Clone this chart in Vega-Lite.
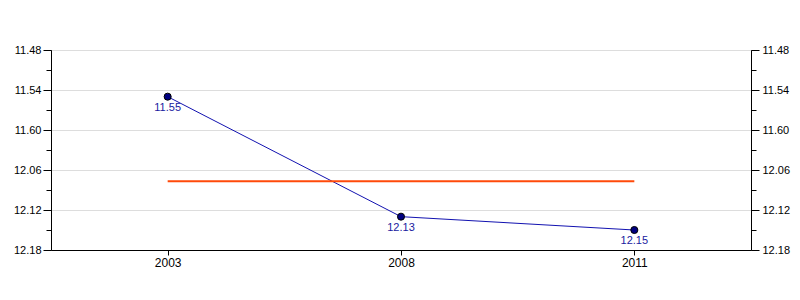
{
  "$schema": "https://vega.github.io/schema/vega-lite/v6.json",
  "width": 700,
  "height": 200,
  "autosize": {"type": "none"},
  "padding": {"left": 51, "top": 50, "right": 49, "bottom": 50},
  "background": "white",
  "config": {
    "view": {"stroke": "black", "strokeWidth": 1},
    "font": "Liberation Sans",
    "axis": {"labelFont": "Liberation Sans", "labelFontSize": 11, "labelColor": "black", "domainColor": "black", "tickColor": "black", "title": null}
  },
  "data": {
    "values": [
      {"year": "2003", "time": 715, "label": "11.55", "avg": 727.67},
      {"year": "2008", "time": 733, "label": "12.13", "avg": 727.67},
      {"year": "2011", "time": 735, "label": "12.15", "avg": 727.67}
    ]
  },
  "encoding": {
    "x": {
      "field": "year",
      "type": "ordinal",
      "scale": {"type": "point", "padding": 0.5},
      "axis": {"labelAngle": 0, "tickSize": 5, "labelPadding": 2, "labelFontSize": 12, "grid": false, "domainColor": "black"}
    }
  },
  "layer": [
    {
      "mark": {"type": "line", "color": "#1212B0", "strokeWidth": 1},
      "encoding": {
        "y": {
          "field": "time", "type": "quantitative",
          "scale": {"domain": [708, 738], "reverse": true, "nice": false, "zero": false},
          "axis": {"orient": "left", "values": [708, 714, 720, 726, 732, 738], "tickSize": 8, "labelPadding": 2, "grid": true, "gridColor": "#dddddd",
            "labelExpr": "floor((datum.value-1)/60) + '.' + (((datum.value-1)%60+1) < 10 ? '0' : '') + ((datum.value-1)%60+1)"}
        }
      }
    },
    {
      "mark": {"type": "line", "color": "#FF4A0A", "strokeWidth": 2},
      "encoding": {
        "y": {
          "field": "avg", "type": "quantitative",
          "scale": {"domain": [708, 738], "reverse": true, "nice": false, "zero": false},
          "axis": {"orient": "right", "values": [711, 717, 723, 729, 735], "tickSize": 5, "labels": false, "domain": false, "grid": false}
        }
      }
    },
    {
      "mark": {"type": "point", "filled": true, "color": "#000080", "stroke": "black", "strokeWidth": 1, "size": 50, "opacity": 1},
      "encoding": {
        "y": {
          "field": "time", "type": "quantitative",
          "scale": {"domain": [708, 738], "reverse": true, "nice": false, "zero": false},
          "axis": {"orient": "right", "values": [708, 714, 720, 726, 732, 738], "tickSize": 8, "labelPadding": 3, "grid": false,
            "labelExpr": "floor((datum.value-1)/60) + '.' + (((datum.value-1)%60+1) < 10 ? '0' : '') + ((datum.value-1)%60+1)"}
        }
      }
    },
    {
      "mark": {"type": "text", "color": "#1A1AA0", "fontSize": 11, "baseline": "middle", "align": "center", "dy": 11},
      "encoding": {
        "text": {"field": "label"},
        "y": {
          "field": "time", "type": "quantitative",
          "scale": {"domain": [708, 738], "reverse": true, "nice": false, "zero": false},
          "axis": {"orient": "left", "values": [711, 717, 723, 729, 735], "tickSize": 5, "labels": false, "domain": false, "grid": false}
        }
      }
    }
  ],
  "resolve": {"axis": {"y": "independent"}}
}
